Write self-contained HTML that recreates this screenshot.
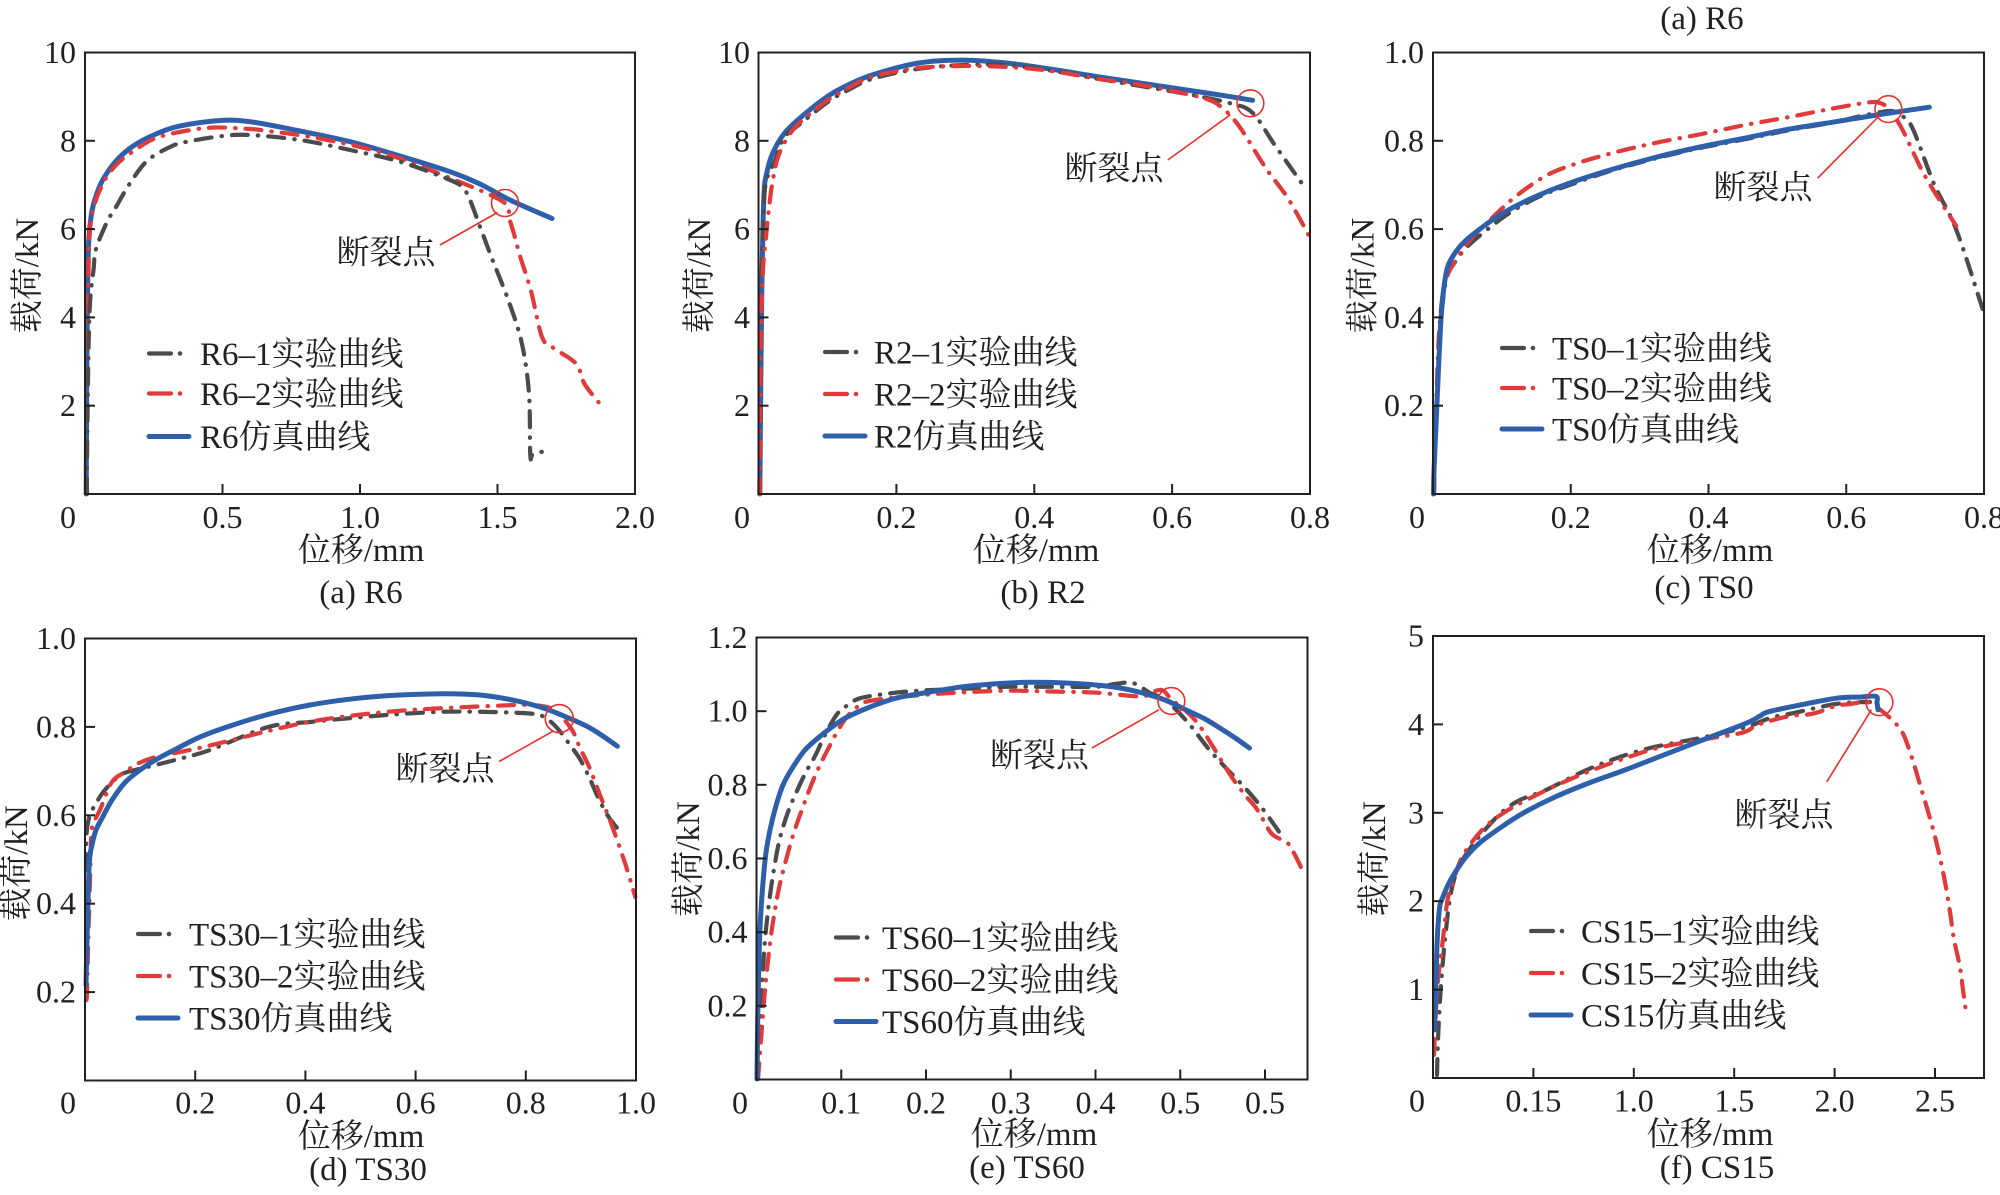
<!DOCTYPE html>
<html><head><meta charset="utf-8"><style>
html,body{margin:0;padding:0;background:#fff;}
svg{display:block;}
text{font-family:"Liberation Serif","Noto Serif CJK SC",serif;fill:#231f20;}
.t{font-size:32px;}
.l{font-size:33px;}
.fr{fill:none;stroke:#231f20;stroke-width:2;}
.tk{stroke:#231f20;stroke-width:2;}
.bl{fill:none;stroke:#2d5fab;stroke-width:5;stroke-linejoin:round;stroke-linecap:round;}
.gr{fill:none;stroke:#4b4b4b;stroke-width:4.2;stroke-linejoin:round;stroke-linecap:round;stroke-dasharray:16 10 0.5 10;}
.rd{fill:none;stroke:#e03a3b;stroke-width:4.2;stroke-linejoin:round;stroke-linecap:round;stroke-dasharray:16 10 0.5 10;}
.ann{fill:none;stroke:#e8302c;stroke-width:1.6;}
</style></head><body>
<svg width="2000" height="1195" viewBox="0 0 2000 1195" xmlns="http://www.w3.org/2000/svg">
<rect width="2000" height="1195" fill="#fff"/>

<!-- ========== (a) R6 ========== -->
<g>
<path class="bl" d="M86.2,494 L87,344 L88.4,249 L91.5,214 L96,196 L102.7,180 L116,161 L134,145.4 L156,134 L178.6,126.3 L218.7,120.6 L250,121.7 L300,131 L350,141.7 L400,156 L450,171.7 L480,184 L510,200 L552,218.5"/>
<path class="rd" d="M86.5,494 L87,420 L88,320 L89.3,240 L93,210 L102.7,184 L116,165 L135,150 L156,138 L185,131 L214,127.5 L250,129 L268,131 L317,138 L383,153 L450,178 L503,201.7 L509,218 L514,234 L520,256 L531,291 L542,337 L553.5,348 L576,363.6 L585,384.6 L603,407.6"/>
<path class="gr" d="M87,494 L87,459 L89.3,318 L93.7,268 L96,249 L107,222 L116,207 L129.5,184 L147,161 L170,147 L187.5,141.6 L223,136 L250,135 L300,140 L350,150 L400,161.7 L450,180 L463,188 L470,200 L480,226.7 L491,256 L509,302 L522,344 L529,394 L530.3,455 L533,454 L545,451"/>
<rect class="fr" x="85" y="52.5" width="550" height="441.5"/>
<line class="tk" x1="85" y1="140.8" x2="95" y2="140.8"/>
<line class="tk" x1="85" y1="229.1" x2="95" y2="229.1"/>
<line class="tk" x1="85" y1="317.4" x2="95" y2="317.4"/>
<line class="tk" x1="85" y1="405.7" x2="95" y2="405.7"/>
<line class="tk" x1="222.5" y1="494" x2="222.5" y2="484"/>
<line class="tk" x1="360" y1="494" x2="360" y2="484"/>
<line class="tk" x1="497.5" y1="494" x2="497.5" y2="484"/>
<text class="t" x="76" y="63" text-anchor="end">10</text>
<text class="t" x="76" y="151.3" text-anchor="end">8</text>
<text class="t" x="76" y="239.6" text-anchor="end">6</text>
<text class="t" x="76" y="327.9" text-anchor="end">4</text>
<text class="t" x="76" y="416.2" text-anchor="end">2</text>
<text class="t" x="68" y="528" text-anchor="middle">0</text>
<text class="t" x="222.5" y="528" text-anchor="middle">0.5</text>
<text class="t" x="360" y="528" text-anchor="middle">1.0</text>
<text class="t" x="497.5" y="528" text-anchor="middle">1.5</text>
<text class="t" x="635" y="528" text-anchor="middle">2.0</text>
<text class="l" x="361" y="561" text-anchor="middle">位移/mm</text>
<text class="l" transform="translate(38,275.5) rotate(-90)" text-anchor="middle">载荷/kN</text>
<text class="l" x="361" y="603" text-anchor="middle">(a) R6</text>
<circle class="ann" cx="505" cy="203" r="13.5"/>
<line class="ann" x1="497.5" y1="212.5" x2="440" y2="245"/>
<text class="l" x="386" y="263.5" text-anchor="middle">断裂点</text>
<line x1="149" y1="353.5" x2="171" y2="353.5" stroke="#4b4b4b" stroke-width="4.2" stroke-linecap="round"/>
<circle cx="180" cy="353.5" r="2.3" fill="#4b4b4b"/>
<line x1="149" y1="393.5" x2="171" y2="393.5" stroke="#e03a3b" stroke-width="4.2" stroke-linecap="round"/>
<circle cx="180" cy="393.5" r="2.3" fill="#e03a3b"/>
<line x1="149" y1="436.5" x2="189" y2="436.5" stroke="#2d5fab" stroke-width="5" stroke-linecap="round"/>
<text class="l" x="200" y="365">R6–1实验曲线</text>
<text class="l" x="200" y="405">R6–2实验曲线</text>
<text class="l" x="200" y="448">R6仿真曲线</text>
</g>

<!-- ========== (b) R2 ========== -->
<g>
<path class="bl" d="M759.8,494 L761.6,306 L763.8,199 L767,172 L772.8,153 L783.9,134 L800,118 L828.6,95.7 L850,84 L873.2,74.6 L917.8,63.1 L962.5,60.1 L1007,63.1 L1050,69 L1096.4,76.5 L1140,83 L1185.7,89.9 L1220,95 L1252.6,100.3"/>
<path class="gr" d="M760,494 L760.5,380 L761.5,300 L763,230 L765.6,184 L775,160.7 L783.9,137.8 L800,124 L828.6,101.4 L850,89 L873.2,78.5 L917.8,68.9 L962.5,65.1 L1007,65.1 L1051.8,70.8 L1096.4,78.5 L1141,86.1 L1185.7,93.8 L1230.3,103.3 L1252.6,112.9 L1275,145.4 L1306.2,189.4"/>
<path class="rd" d="M759.5,494 L760,420 L761,330 L763,270 L766,237 L768.3,214 L772.8,180 L779.5,153 L792.8,130 L810,114 L828.6,99.5 L850,87 L873.2,76.5 L917.8,68.1 L962.5,66 L1007,67 L1051.8,71 L1096.4,78.5 L1141,85 L1185.7,93.8 L1208,99.5 L1221.4,107.2 L1239.2,126.3 L1266,168.4 L1288.4,199 L1309.8,237.3"/>
<rect class="fr" x="758.5" y="52.5" width="551.5" height="441.5"/>
<line class="tk" x1="758.5" y1="140.8" x2="768.5" y2="140.8"/>
<line class="tk" x1="758.5" y1="229.1" x2="768.5" y2="229.1"/>
<line class="tk" x1="758.5" y1="317.4" x2="768.5" y2="317.4"/>
<line class="tk" x1="758.5" y1="405.7" x2="768.5" y2="405.7"/>
<line class="tk" x1="896.4" y1="494" x2="896.4" y2="484"/>
<line class="tk" x1="1034.3" y1="494" x2="1034.3" y2="484"/>
<line class="tk" x1="1172.1" y1="494" x2="1172.1" y2="484"/>
<text class="t" x="750" y="63" text-anchor="end">10</text>
<text class="t" x="750" y="151.3" text-anchor="end">8</text>
<text class="t" x="750" y="239.6" text-anchor="end">6</text>
<text class="t" x="750" y="327.9" text-anchor="end">4</text>
<text class="t" x="750" y="416.2" text-anchor="end">2</text>
<text class="t" x="742" y="528" text-anchor="middle">0</text>
<text class="t" x="896.4" y="528" text-anchor="middle">0.2</text>
<text class="t" x="1034.3" y="528" text-anchor="middle">0.4</text>
<text class="t" x="1172.1" y="528" text-anchor="middle">0.6</text>
<text class="t" x="1310" y="528" text-anchor="middle">0.8</text>
<text class="l" x="1036" y="561" text-anchor="middle">位移/mm</text>
<text class="l" transform="translate(710,275.5) rotate(-90)" text-anchor="middle">载荷/kN</text>
<text class="l" x="1043" y="603" text-anchor="middle">(b) R2</text>
<circle class="ann" cx="1250.4" cy="103.3" r="13.4"/>
<line class="ann" x1="1230.3" y1="114.8" x2="1167.8" y2="160"/>
<text class="l" x="1114" y="179.5" text-anchor="middle">断裂点</text>
<line x1="825" y1="352" x2="847" y2="352" stroke="#4b4b4b" stroke-width="4.2" stroke-linecap="round"/>
<circle cx="856" cy="352" r="2.3" fill="#4b4b4b"/>
<line x1="825" y1="394" x2="847" y2="394" stroke="#e03a3b" stroke-width="4.2" stroke-linecap="round"/>
<circle cx="856" cy="394" r="2.3" fill="#e03a3b"/>
<line x1="825" y1="436" x2="865" y2="436" stroke="#2d5fab" stroke-width="5" stroke-linecap="round"/>
<text class="l" x="874" y="363.5">R2–1实验曲线</text>
<text class="l" x="874" y="405.5">R2–2实验曲线</text>
<text class="l" x="874" y="447.5">R2仿真曲线</text>
</g>

<!-- ========== (c) TS0 ========== -->
<g>
<text class="l" x="1702" y="29" text-anchor="middle">(a) R6</text>
<path class="gr" d="M1434,494 L1435,440 L1437,390 L1440.6,330 L1443,300 L1447.3,275.5 L1455,262 L1465.2,248.8 L1478,237 L1492,225.8 L1505,216 L1523.2,204.7 L1545,194 L1567.9,185.6 L1610,171 L1657,158 L1700,148 L1746.4,139 L1790,130 L1835.7,122 L1858,116.7 L1889.3,111 L1898.2,114.8 L1911.6,126.3 L1933.9,183.7 L1956.2,229.6 L1983,310"/>
<path class="rd" d="M1434,494 L1435,450 L1436.5,400 L1438.4,344 L1442,300 L1447.3,275.5 L1456.2,260 L1470,240 L1492,218 L1515,197 L1545.5,176 L1575,164 L1612.5,153 L1655,143 L1701.8,134 L1745,125 L1791,116.7 L1830,109 L1866.9,102.6 L1880,103 L1890,110 L1902.6,130 L1925,176 L1956.2,226"/>
<path class="bl" d="M1433.5,494 L1434,470.7 L1436.2,421 L1438,380 L1440.6,325 L1443,295 L1447.3,268 L1455,253 L1465.2,241 L1480,229 L1500.9,214.3 L1530,199 L1567.9,183.7 L1610,170 L1657,157 L1700,147 L1746.4,137.8 L1790,129 L1835.7,121.7 L1880,114.5 L1929.4,107.2"/>
<rect class="fr" x="1433" y="52.5" width="551" height="441.5"/>
<line class="tk" x1="1433" y1="140.8" x2="1443" y2="140.8"/>
<line class="tk" x1="1433" y1="229.1" x2="1443" y2="229.1"/>
<line class="tk" x1="1433" y1="317.4" x2="1443" y2="317.4"/>
<line class="tk" x1="1433" y1="405.7" x2="1443" y2="405.7"/>
<line class="tk" x1="1570.75" y1="494" x2="1570.75" y2="484"/>
<line class="tk" x1="1708.5" y1="494" x2="1708.5" y2="484"/>
<line class="tk" x1="1846.25" y1="494" x2="1846.25" y2="484"/>
<text class="t" x="1424" y="63" text-anchor="end">1.0</text>
<text class="t" x="1424" y="151.3" text-anchor="end">0.8</text>
<text class="t" x="1424" y="239.6" text-anchor="end">0.6</text>
<text class="t" x="1424" y="327.9" text-anchor="end">0.4</text>
<text class="t" x="1424" y="416.2" text-anchor="end">0.2</text>
<text class="t" x="1417" y="528" text-anchor="middle">0</text>
<text class="t" x="1570.75" y="528" text-anchor="middle">0.2</text>
<text class="t" x="1708.5" y="528" text-anchor="middle">0.4</text>
<text class="t" x="1846.25" y="528" text-anchor="middle">0.6</text>
<text class="t" x="1984" y="528" text-anchor="middle">0.8</text>
<text class="l" x="1710" y="561" text-anchor="middle">位移/mm</text>
<text class="l" transform="translate(1373.5,275.5) rotate(-90)" text-anchor="middle">载荷/kN</text>
<text class="l" x="1704" y="598" text-anchor="middle">(c) TS0</text>
<circle class="ann" cx="1888.4" cy="109.1" r="13.4"/>
<line class="ann" x1="1880.3" y1="114.8" x2="1817.8" y2="178"/>
<text class="l" x="1763" y="198.5" text-anchor="middle">断裂点</text>
<line x1="1502" y1="348" x2="1524" y2="348" stroke="#4b4b4b" stroke-width="4.2" stroke-linecap="round"/>
<circle cx="1533" cy="348" r="2.3" fill="#4b4b4b"/>
<line x1="1502" y1="388" x2="1524" y2="388" stroke="#e03a3b" stroke-width="4.2" stroke-linecap="round"/>
<circle cx="1533" cy="388" r="2.3" fill="#e03a3b"/>
<line x1="1502" y1="429" x2="1542" y2="429" stroke="#2d5fab" stroke-width="5" stroke-linecap="round"/>
<text class="l" x="1552" y="359.5">TS0–1实验曲线</text>
<text class="l" x="1552" y="399.5">TS0–2实验曲线</text>
<text class="l" x="1552" y="440.5">TS0仿真曲线</text>
</g>

<!-- ========== (d) TS30 ========== -->
<g>
<path class="gr" d="M86,870 L86.5,835 L89.3,817 L95,805 L104.9,790 L120.5,775 L135,770 L147.3,767 L175,760 L210,750 L268,727 L310,722 L357,717.5 L400,714 L446.4,711.7 L490,712 L531,713.6 L545,717.5 L558,729 L570,745 L580.3,759.6 L590,779 L598.2,797.8 L608,816 L617.4,828.4"/>
<path class="rd" d="M86.5,1000 L87,990 L88.5,930 L90,880 L91.5,832 L95,820 L100.4,809 L111.6,782.5 L125,772 L138.4,763.4 L156,757 L190,750 L223,742.3 L268,731 L312.5,721.3 L357,715 L401.8,710.6 L446,708 L491,706 L530,705 L553.5,709.8 L571.4,729 L580,748 L589.2,767 L600,795 L611.6,824.6 L625,863 L635.3,897"/>
<path class="bl" d="M86,985 L86.5,962 L87.5,920 L89.3,863 L92,845 L96,830 L102.7,817 L112,800 L125,782.5 L140,770 L156,759.6 L178,748 L201,736.6 L230,726 L268,714.4 L310,705 L357,698.3 L400,695 L446.4,693.7 L480,695 L513.4,700.2 L540,707 L558,713.6 L590,728 L617.4,746.2"/>
<rect class="fr" x="85" y="638.5" width="551" height="442"/>
<line class="tk" x1="85" y1="726.9" x2="95" y2="726.9"/>
<line class="tk" x1="85" y1="815.3" x2="95" y2="815.3"/>
<line class="tk" x1="85" y1="903.7" x2="95" y2="903.7"/>
<line class="tk" x1="85" y1="992.1" x2="95" y2="992.1"/>
<line class="tk" x1="195.2" y1="1080.5" x2="195.2" y2="1070.5"/>
<line class="tk" x1="305.4" y1="1080.5" x2="305.4" y2="1070.5"/>
<line class="tk" x1="415.6" y1="1080.5" x2="415.6" y2="1070.5"/>
<line class="tk" x1="525.8" y1="1080.5" x2="525.8" y2="1070.5"/>
<text class="t" x="76" y="649" text-anchor="end">1.0</text>
<text class="t" x="76" y="737.4" text-anchor="end">0.8</text>
<text class="t" x="76" y="825.8" text-anchor="end">0.6</text>
<text class="t" x="76" y="914.2" text-anchor="end">0.4</text>
<text class="t" x="76" y="1002.6" text-anchor="end">0.2</text>
<text class="t" x="68" y="1113.5" text-anchor="middle">0</text>
<text class="t" x="195.2" y="1113.5" text-anchor="middle">0.2</text>
<text class="t" x="305.4" y="1113.5" text-anchor="middle">0.4</text>
<text class="t" x="415.6" y="1113.5" text-anchor="middle">0.6</text>
<text class="t" x="525.8" y="1113.5" text-anchor="middle">0.8</text>
<text class="t" x="636" y="1113.5" text-anchor="middle">1.0</text>
<text class="l" x="361" y="1147" text-anchor="middle">位移/mm</text>
<text class="l" transform="translate(27,863) rotate(-90)" text-anchor="middle">载荷/kN</text>
<text class="l" x="368" y="1180" text-anchor="middle">(d) TS30</text>
<circle class="ann" cx="559.3" cy="718.6" r="14"/>
<line class="ann" x1="553.5" y1="730.9" x2="499.1" y2="761.5"/>
<text class="l" x="445" y="780" text-anchor="middle">断裂点</text>
<line x1="138" y1="934" x2="160" y2="934" stroke="#4b4b4b" stroke-width="4.2" stroke-linecap="round"/>
<circle cx="169" cy="934" r="2.3" fill="#4b4b4b"/>
<line x1="138" y1="976" x2="160" y2="976" stroke="#e03a3b" stroke-width="4.2" stroke-linecap="round"/>
<circle cx="169" cy="976" r="2.3" fill="#e03a3b"/>
<line x1="138" y1="1018" x2="178" y2="1018" stroke="#2d5fab" stroke-width="5" stroke-linecap="round"/>
<text class="l" x="189" y="945.5">TS30–1实验曲线</text>
<text class="l" x="189" y="987.5">TS30–2实验曲线</text>
<text class="l" x="189" y="1029.5">TS30仿真曲线</text>
</g>

<!-- ========== (e) TS60 ========== -->
<g>
<path class="gr" d="M758,1079 L760,1030 L762.5,977.7 L765,940 L768.3,908.8 L773,875 L779.5,840 L788,812 L797.3,790.2 L806,772 L815.2,755.7 L826,733 L837.5,713.6 L848,705 L859.8,698.3 L885,694 L918,690.7 L960,689 L1007,686.8 L1050,686.8 L1096,686.8 L1115,684 L1132.8,683 L1150,693 L1160,697 L1172.3,706 L1190,725 L1208,748.1 L1225,767 L1243.7,786.4 L1262,808 L1279.4,832.3"/>
<path class="rd" d="M758,1079 L761,1040 L765,990 L770.5,939.4 L775,910 L779.5,885.8 L786,860 L792.8,836 L800,815 L810.7,786.4 L820,765 L828.6,748 L837,732 L846.4,717.5 L855,709 L864.3,702.2 L890,698 L918,695.3 L960,692.5 L1007,690.7 L1050,691.5 L1096,692.6 L1141,696.4 L1155,691 L1163.3,690.7 L1172,700 L1185,710 L1199,725 L1215,750 L1230.3,775 L1245,795 L1257.1,809.4 L1270.5,832.3 L1280,839 L1288.4,843.8 L1296,857 L1302.6,870.6"/>
<path class="bl" d="M757,1079 L758,1000 L759.5,940 L761.6,901 L765.2,859 L769,835 L775,809.4 L783,785 L792.8,767.3 L805,750 L819.6,736.7 L832,727 L846.4,717.5 L870,707 L895.5,698.3 L930,692 L962.5,686.8 L1000,683.5 L1029.4,682.3 L1065,683 L1096.4,685 L1120,688 L1141,692.6 L1165,700 L1185.7,709.8 L1205,719 L1221.4,729 L1236,738.5 L1249.5,748.1"/>
<rect class="fr" x="756.5" y="637.5" width="551" height="442"/>
<line class="tk" x1="756.5" y1="711.2" x2="766.5" y2="711.2"/>
<line class="tk" x1="756.5" y1="784.8" x2="766.5" y2="784.8"/>
<line class="tk" x1="756.5" y1="858.5" x2="766.5" y2="858.5"/>
<line class="tk" x1="756.5" y1="932.2" x2="766.5" y2="932.2"/>
<line class="tk" x1="756.5" y1="1005.8" x2="766.5" y2="1005.8"/>
<line class="tk" x1="841.25" y1="1079.5" x2="841.25" y2="1069.5"/>
<line class="tk" x1="926" y1="1079.5" x2="926" y2="1069.5"/>
<line class="tk" x1="1010.75" y1="1079.5" x2="1010.75" y2="1069.5"/>
<line class="tk" x1="1095.5" y1="1079.5" x2="1095.5" y2="1069.5"/>
<line class="tk" x1="1180.25" y1="1079.5" x2="1180.25" y2="1069.5"/>
<line class="tk" x1="1265" y1="1079.5" x2="1265" y2="1069.5"/>
<text class="t" x="747.5" y="648" text-anchor="end">1.2</text>
<text class="t" x="747.5" y="721.7" text-anchor="end">1.0</text>
<text class="t" x="747.5" y="795.3" text-anchor="end">0.8</text>
<text class="t" x="747.5" y="869" text-anchor="end">0.6</text>
<text class="t" x="747.5" y="942.7" text-anchor="end">0.4</text>
<text class="t" x="747.5" y="1016.3" text-anchor="end">0.2</text>
<text class="t" x="740" y="1113.5" text-anchor="middle">0</text>
<text class="t" x="841.25" y="1113.5" text-anchor="middle">0.1</text>
<text class="t" x="926" y="1113.5" text-anchor="middle">0.2</text>
<text class="t" x="1010.75" y="1113.5" text-anchor="middle">0.3</text>
<text class="t" x="1095.5" y="1113.5" text-anchor="middle">0.4</text>
<text class="t" x="1180.25" y="1113.5" text-anchor="middle">0.5</text>
<text class="t" x="1265" y="1113.5" text-anchor="middle">0.5</text>
<text class="l" x="1034" y="1145" text-anchor="middle">位移/mm</text>
<text class="l" transform="translate(699,859) rotate(-90)" text-anchor="middle">载荷/kN</text>
<text class="l" x="1027" y="1178" text-anchor="middle">(e) TS60</text>
<circle class="ann" cx="1171.4" cy="701" r="13.4"/>
<line class="ann" x1="1158.9" y1="709.8" x2="1091.9" y2="748.1"/>
<text class="l" x="1039.5" y="766.5" text-anchor="middle">断裂点</text>
<line x1="836" y1="937.5" x2="858" y2="937.5" stroke="#4b4b4b" stroke-width="4.2" stroke-linecap="round"/>
<circle cx="867" cy="937.5" r="2.3" fill="#4b4b4b"/>
<line x1="836" y1="979.5" x2="858" y2="979.5" stroke="#e03a3b" stroke-width="4.2" stroke-linecap="round"/>
<circle cx="867" cy="979.5" r="2.3" fill="#e03a3b"/>
<line x1="836" y1="1021.5" x2="876" y2="1021.5" stroke="#2d5fab" stroke-width="5" stroke-linecap="round"/>
<text class="l" x="882" y="949">TS60–1实验曲线</text>
<text class="l" x="882" y="991">TS60–2实验曲线</text>
<text class="l" x="882" y="1033">TS60仿真曲线</text>
</g>

<!-- ========== (f) CS15 ========== -->
<g>
<path class="gr" d="M1437,1075 L1438,1040 L1440,1000 L1443,960 L1446,930 L1449.5,901.2 L1454,880 L1460.7,862.9 L1478,838 L1500.9,813.1 L1520,800 L1545.5,790.2 L1580,773 L1612.5,759.6 L1650,748 L1700,738 L1746.4,727 L1770,718 L1791,713.6 L1835.7,704 L1866,702 L1870,702"/>
<path class="rd" d="M1434,1055 L1436,1010 L1438,980 L1440.6,958.6 L1444,930 L1447.3,901.2 L1452,885 L1460.7,860 L1472,842 L1487.5,824.6 L1505,812 L1523.2,801.7 L1555,786 L1590.2,771 L1620,760 L1657.1,748.1 L1700,740 L1741.9,732.8 L1755,726 L1768.7,721.3 L1790,716 L1813.3,713.6 L1835.7,706 L1850,704 L1866.9,702.2 L1880.3,709.8 L1892,720 L1902.6,732.8 L1912,758 L1920.5,786.4 L1927,808 L1933.9,832.3 L1940,858 L1945,882 L1950,912 L1954,939.4 L1959.8,966.2 L1963,990 L1966,1012"/>
<path class="bl" d="M1434.5,1030 L1435,1010 L1436.1,977.7 L1437,945 L1438.4,920.3 L1440,905 L1442.8,897.3 L1448,885 L1456.2,870.6 L1466,857 L1478.6,843.8 L1500,828 L1523.2,813.1 L1555,797 L1590.2,782.5 L1625,770 L1657.1,757.6 L1700,741 L1746.4,723.2 L1760,716 L1768.7,711.7 L1800,705 L1835.7,698.3 L1860,697 L1875.9,696.4 L1877,703 L1878.1,709.8"/>
<rect class="fr" x="1433" y="636" width="551" height="442"/>
<line class="tk" x1="1433" y1="724.4" x2="1443" y2="724.4"/>
<line class="tk" x1="1433" y1="812.8" x2="1443" y2="812.8"/>
<line class="tk" x1="1433" y1="901.2" x2="1443" y2="901.2"/>
<line class="tk" x1="1433" y1="989.6" x2="1443" y2="989.6"/>
<line class="tk" x1="1533.4" y1="1078" x2="1533.4" y2="1068"/>
<line class="tk" x1="1633.8" y1="1078" x2="1633.8" y2="1068"/>
<line class="tk" x1="1734.2" y1="1078" x2="1734.2" y2="1068"/>
<line class="tk" x1="1834.6" y1="1078" x2="1834.6" y2="1068"/>
<line class="tk" x1="1935" y1="1078" x2="1935" y2="1068"/>
<text class="t" x="1424" y="646.5" text-anchor="end">5</text>
<text class="t" x="1424" y="734.9" text-anchor="end">4</text>
<text class="t" x="1424" y="823.3" text-anchor="end">3</text>
<text class="t" x="1424" y="911.7" text-anchor="end">2</text>
<text class="t" x="1424" y="1000.1" text-anchor="end">1</text>
<text class="t" x="1417" y="1111.5" text-anchor="middle">0</text>
<text class="t" x="1533.4" y="1111.5" text-anchor="middle">0.15</text>
<text class="t" x="1633.8" y="1111.5" text-anchor="middle">1.0</text>
<text class="t" x="1734.2" y="1111.5" text-anchor="middle">1.5</text>
<text class="t" x="1834.6" y="1111.5" text-anchor="middle">2.0</text>
<text class="t" x="1935" y="1111.5" text-anchor="middle">2.5</text>
<text class="l" x="1710" y="1145" text-anchor="middle">位移/mm</text>
<text class="l" transform="translate(1385,859) rotate(-90)" text-anchor="middle">载荷/kN</text>
<text class="l" x="1717" y="1178" text-anchor="middle">(f) CS15</text>
<circle class="ann" cx="1879.4" cy="702.2" r="13.4"/>
<line class="ann" x1="1871.4" y1="709.8" x2="1826.8" y2="781.8"/>
<text class="l" x="1784" y="826" text-anchor="middle">断裂点</text>
<line x1="1531" y1="931" x2="1553" y2="931" stroke="#4b4b4b" stroke-width="4.2" stroke-linecap="round"/>
<circle cx="1562" cy="931" r="2.3" fill="#4b4b4b"/>
<line x1="1531" y1="973" x2="1553" y2="973" stroke="#e03a3b" stroke-width="4.2" stroke-linecap="round"/>
<circle cx="1562" cy="973" r="2.3" fill="#e03a3b"/>
<line x1="1531" y1="1015" x2="1571" y2="1015" stroke="#2d5fab" stroke-width="5" stroke-linecap="round"/>
<text class="l" x="1581" y="942.5">CS15–1实验曲线</text>
<text class="l" x="1581" y="984.5">CS15–2实验曲线</text>
<text class="l" x="1581" y="1026.5">CS15仿真曲线</text>
</g>
</svg>
<script>
(function(){
  var ps=document.querySelectorAll('path.bl,path.rd,path.gr');
  for(var k=0;k<ps.length;k++){
    var p=ps[k];
    var n=p.getAttribute('d').match(/-?\d+(\.\d+)?/g).map(Number);
    var pts=[];
    for(var i=0;i+1<n.length;i+=2)pts.push([n[i],n[i+1]]);
    if(pts.length<3)continue;
    var d='M'+pts[0][0]+','+pts[0][1];
    for(var i=0;i<pts.length-1;i++){
      var p0=pts[i-1]||pts[i],p1=pts[i],p2=pts[i+1],p3=pts[i+2]||pts[i+1];
      var c1x=p1[0]+(p2[0]-p0[0])/6,c1y=p1[1]+(p2[1]-p0[1])/6;
      var c2x=p2[0]-(p3[0]-p1[0])/6,c2y=p2[1]-(p3[1]-p1[1])/6;
      d+=' C'+c1x.toFixed(2)+','+c1y.toFixed(2)+' '+c2x.toFixed(2)+','+c2y.toFixed(2)+' '+p2[0]+','+p2[1];
    }
    p.setAttribute('d',d);
  }
})();
</script>
</body></html>
